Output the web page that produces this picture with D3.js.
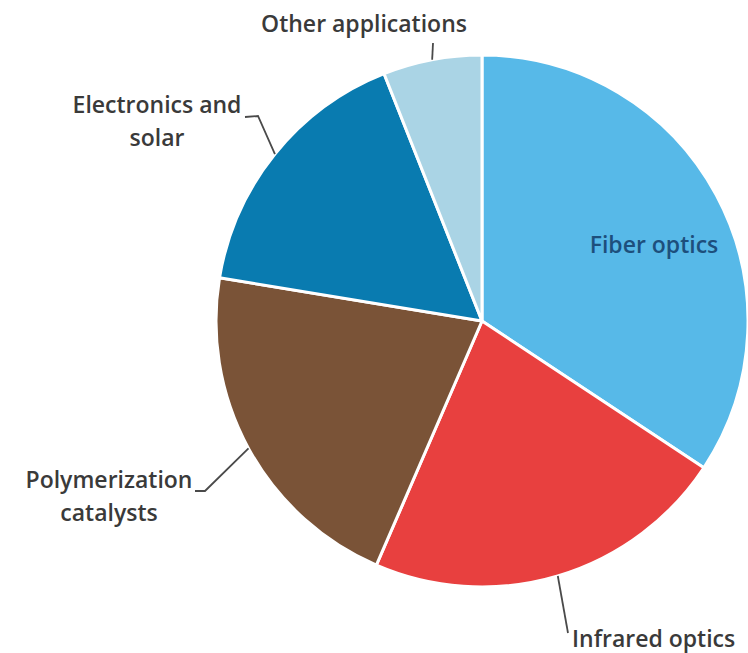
<!DOCTYPE html>
<html>
<head>
<meta charset="utf-8">
<script src="https://cdn.jsdelivr.net/npm/d3@7"></script>
<style>
  body { margin: 0; background: #fff; }
  text { font-family: "Open Sans", sans-serif; }
</style>
</head>
<body>
<div id="pie_chart"></div>
<script>
var categories = ["Fiber optics", "Infrared optics", "Polymerization catalysts", "Electronics and solar", "Other applications"];
var shares = [34.3, 22.2, 21.1, 16.4, 6.0];
var colors = ["#57b9e8", "#e8403f", "#7a5337", "#097bb0", "#aad4e5"];

// label lines (split names) for each slice
var labelLines = [["Fiber optics"], ["Infrared optics"], ["Polymerization", "catalysts"], ["Electronics and", "solar"], ["Other applications"]];

function drawPieChart() {
    var width = 748, height = 653;
    var cx = 482, cy = 321, radius = 266;

    var data = categories.map(function(c, i) { return {name: c, value: shares[i], color: colors[i], lines: labelLines[i]}; });

    var svg = d3.select("#pie_chart")
      .append("svg")
        .attr("width", width)
        .attr("height", height);

    var g = svg.append("g")
        .attr("transform", "translate(" + cx + "," + cy + ")");

    var pie = d3.pie()
        .sort(null)
        .value(function(d) { return d.value; });

    var arc = d3.arc()
        .innerRadius(0)
        .outerRadius(radius);

    var arcs = pie(data);

    g.selectAll(".slice")
        .data(arcs)
      .enter().append("path")
        .attr("class", "slice")
        .attr("d", arc)
        .style("fill", function(d) { return d.data.color; })
        .style("stroke", "#fff")
        .style("stroke-width", 3)
        .style("stroke-linejoin", "round");

    // point on the rim in the middle of a slice
    var rim = function(d) {
        var a = (d.startAngle + d.endAngle) / 2;
        return [radius * Math.sin(a), -radius * Math.cos(a)];
    };

    // leader elbows and label anchors, relative to the centre
    var leaders = {
        "Infrared optics": {pts: [[86, 312]], x: 90, y: 326, anchor: "start"},
        "Polymerization catalysts": {pts: [[-277, 170], [-287, 170]], x: -373, y: 167, anchor: "middle"},
        "Electronics and solar": {pts: [[-224, -205], [-237, -204]], x: -325, y: -208, anchor: "middle"},
        "Other applications": {pts: [[-49, -278]], x: -118, y: -289, anchor: "middle"}
    };

    arcs.forEach(function(d) {
        var lead = leaders[d.data.name];
        if (!lead) return;
        var p = [rim(d)].concat(lead.pts);
        g.append("path")
            .attr("d", d3.line()(p))
            .style("fill", "none")
            .style("stroke", "#4a4a4a")
            .style("stroke-width", 1.8);
    });

    arcs.forEach(function(d) {
        var lead = leaders[d.data.name];
        var t;
        if (lead) {
            t = g.append("text")
                .attr("x", lead.x)
                .attr("y", lead.y)
                .attr("text-anchor", lead.anchor)
                .style("fill", "#3a3a3a");
        } else {
            // Fiber optics sits inside its slice
            t = g.append("text")
                .attr("x", 172)
                .attr("y", -68)
                .attr("text-anchor", "middle")
                .style("fill", "#1d4f7c");
        }
        t.style("font-size", "23px").style("font-weight", 600);
        t.selectAll("tspan")
            .data(d.data.lines)
          .enter().append("tspan")
            .attr("x", t.attr("x"))
            .attr("dy", function(l, i) { return i == 0 ? 0 : 33; })
            .text(function(l) { return l; });
    });
}

drawPieChart();
</script>
</body>
</html>
